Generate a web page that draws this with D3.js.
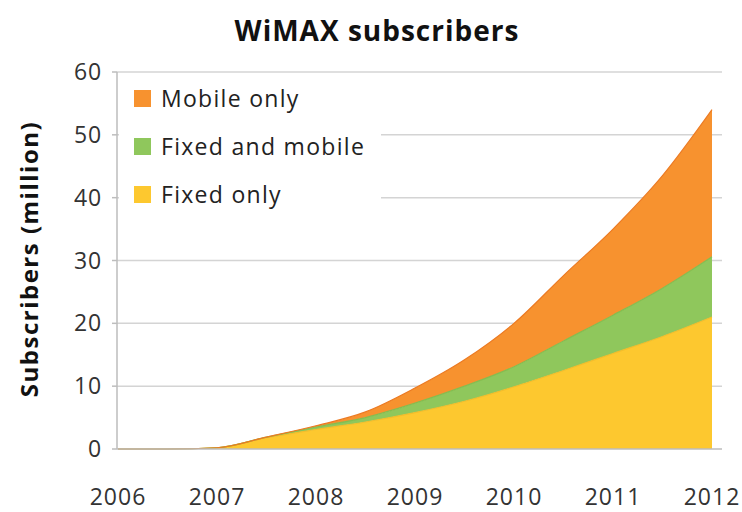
<!DOCTYPE html>
<html lang="en">
<head>
<meta charset="UTF-8">
<title>WiMAX subscribers</title>
<style>
  body { margin: 0; background: #fff; }
  svg { display: block; font-family: "Open Sans", Lato, sans-serif; }
</style>
</head>
<body>
<div id="chart"></div>
<script src="https://cdnjs.cloudflare.com/ajax/libs/d3/7.8.5/d3.min.js"></script>
<script>
// half-yearly points (million subscribers)
const years = [2006, 2006.5, 2007, 2007.5, 2008, 2008.5, 2009, 2009.5, 2010, 2010.5, 2011, 2011.5, 2012];
const fixedOnly = [0, 0, 0.2, 1.8, 3.1, 4.3, 5.8, 7.6, 9.9, 12.5, 15.2, 17.9, 21.0];
const fixedAndMobile = [0, 0, 0, 0.1, 0.4, 0.7, 1.5, 2.4, 3.2, 4.7, 6.1, 7.7, 9.6];
const mobileOnly = [0, 0, 0, 0, 0.2, 0.9, 2.4, 4.2, 6.9, 10.4, 13.7, 17.9, 23.4];

const seriesNames = ["Fixed only", "Fixed and mobile", "Mobile only"];
const seriesColors = ["#fdc82f", "#8fc75c", "#f7922f"];
const edgeColors = ["#f3bd2a", "#84bd50", "#ec7a22"];
const yTicks = [0, 10, 20, 30, 40, 50, 60];
const xTicks = [2006, 2007, 2008, 2009, 2010, 2011, 2012];

const width = 742, height = 512;
const plotLeft = 117, plotRight = 722;

const svg = d3.select("#chart").append("svg")
    .attr("width", width)
    .attr("height", height);

const x = d3.scaleLinear().domain([2006, 2012]).range([118, 712]);
const y = d3.scaleLinear().domain([0, 60]).range([449, 72]);

// gridlines
svg.append("g")
    .selectAll("line")
    .data(yTicks.slice(1))
    .join("line")
    .attr("x1", plotLeft).attr("x2", plotRight)
    .attr("y1", d => y(d)).attr("y2", d => y(d))
    .attr("stroke", "#d4d4d4")
    .attr("stroke-width", 1.5);

// stacked areas
const table = years.map((yr, i) => ({
    year: yr,
    "Fixed only": fixedOnly[i],
    "Fixed and mobile": fixedAndMobile[i],
    "Mobile only": mobileOnly[i]
}));
const stacked = d3.stack().keys(seriesNames)(table);

const area = d3.area()
    .curve(d3.curveMonotoneX)
    .x(d => x(d.data.year))
    .y0(d => y(d[0]))
    .y1(d => y(d[1]));

const topLine = d3.line()
    .curve(d3.curveMonotoneX)
    .x(d => x(d.data.year))
    .y(d => y(d[1]));

svg.append("g")
    .selectAll("path")
    .data(stacked)
    .join("path")
    .attr("d", area)
    .attr("fill", (d, i) => seriesColors[i]);

svg.append("g")
    .selectAll("path")
    .data(stacked)
    .join("path")
    .attr("d", topLine)
    .attr("fill", "none")
    .attr("stroke", (d, i) => edgeColors[i])
    .attr("stroke-width", 1.2);

// axis lines
svg.append("line")
    .attr("x1", plotLeft).attr("x2", plotLeft)
    .attr("y1", y(60)).attr("y2", y(0))
    .attr("stroke", "#bdbdbd").attr("stroke-width", 1.5);
svg.append("line")
    .attr("x1", plotLeft).attr("x2", plotRight)
    .attr("y1", y(0)).attr("y2", y(0))
    .attr("stroke", "#bdbdbd").attr("stroke-width", 1.5);

// y ticks
svg.append("g")
    .selectAll("line")
    .data(yTicks)
    .join("line")
    .attr("x1", plotLeft - 5).attr("x2", plotLeft)
    .attr("y1", d => y(d)).attr("y2", d => y(d))
    .attr("stroke", "#bdbdbd").attr("stroke-width", 1.5);

svg.append("g")
    .selectAll("text")
    .data(yTicks)
    .join("text")
    .attr("x", 102)
    .attr("y", d => y(d))
    .attr("dy", "0.35em")
    .attr("text-anchor", "end")
    .attr("font-size", 23)
    .attr("letter-spacing", 0.8)
    .attr("fill", "#333")
    .text(d => d);

// x labels
svg.append("g")
    .selectAll("text")
    .data(xTicks)
    .join("text")
    .attr("x", d => x(d))
    .attr("y", 505)
    .attr("text-anchor", "middle")
    .attr("font-size", 23)
    .attr("letter-spacing", 1)
    .attr("fill", "#333")
    .text(d => d);

// title
svg.append("text")
    .attr("x", 377)
    .attr("y", 41)
    .attr("text-anchor", "middle")
    .attr("font-size", 28)
    .attr("font-weight", "bold")
    .attr("letter-spacing", 1)
    .attr("fill", "#111")
    .text("WiMAX subscribers");

// y axis title
svg.append("text")
    .attr("transform", "translate(38,259) rotate(-90)")
    .attr("text-anchor", "middle")
    .attr("font-size", 24)
    .attr("font-weight", "bold")
    .attr("letter-spacing", 1.5)
    .attr("fill", "#111")
    .text("Subscribers (million)");

// legend
const legend = svg.append("g");
legend.append("rect")
    .attr("x", plotLeft + 2).attr("y", 76)
    .attr("width", 262).attr("height", 140)
    .attr("fill", "#fff");

const legendOrder = [2, 1, 0];
const rows = legend.selectAll("g.row")
    .data(legendOrder)
    .join("g")
    .attr("class", "row")
    .attr("transform", (d, i) => `translate(134,${99 + i * 48})`);

rows.append("rect")
    .attr("x", 0).attr("y", -9)
    .attr("width", 17).attr("height", 17)
    .attr("fill", d => seriesColors[d]);

rows.append("text")
    .attr("x", 27)
    .attr("y", 0)
    .attr("dy", "0.35em")
    .attr("font-size", 23)
    .attr("letter-spacing", 1.3)
    .attr("fill", "#222")
    .text(d => seriesNames[d]);
</script>
</body>
</html>
